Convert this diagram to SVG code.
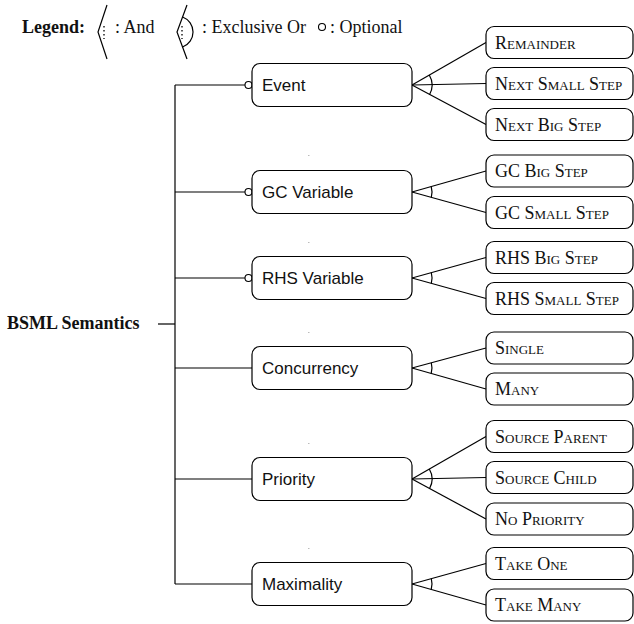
<svg xmlns="http://www.w3.org/2000/svg" width="634" height="624" viewBox="0 0 634 624">
<style>
.bg{fill:#fff}
.ln{stroke:#000;stroke-width:1.2;fill:none}
.node{fill:#fff;stroke:#000;stroke-width:1.2}
.opt{fill:#fff;stroke:#000;stroke-width:1.1}
.main{font-family:"Liberation Sans",Arial,sans-serif;font-size:17px;fill:#111}
.leaf{font-family:"Liberation Serif","Times New Roman",serif;font-size:18px;font-variant:small-caps;fill:#111}
.serif{font-family:"Liberation Serif","Times New Roman",serif;font-size:18px;fill:#111}
.bold{font-weight:bold}
.dots{stroke:#000;stroke-width:1.3;stroke-dasharray:1.5 2.5;fill:none}
.speck{fill:#bbb}
</style>
<rect class="bg" x="0" y="0" width="634" height="624"/>

<g id="legend">
  <text class="serif bold" x="22" y="33">Legend:</text>
  <polyline class="ln" points="107,5 98,32 107,59"/>
  <line class="dots" x1="104" y1="26" x2="104" y2="39"/>
  <text class="serif" x="115" y="33">: And</text>
  <polyline class="ln" points="187,5 177,32 187,59"/>
  <path class="ln" d="M182.6,17 A16,16 0 0 1 182.6,47"/>
  <line class="dots" x1="182" y1="26" x2="182" y2="39"/>
  <text class="serif" x="202" y="33">: Exclusive Or</text>
  <circle class="opt" cx="322" cy="27" r="3.5"/>
  <text class="serif" x="330" y="33">: Optional</text>
</g>

<g id="root">
  <text class="serif bold" x="7" y="329">BSML Semantics</text>
</g>

<g id="connectors">
  <line class="ln" x1="158" y1="324" x2="175" y2="324"/>
  <line class="ln" x1="175" y1="85" x2="175" y2="584"/>
  <line class="ln" x1="175" y1="85" x2="245" y2="85"/>
  <line class="ln" x1="175" y1="192" x2="245" y2="192"/>
  <line class="ln" x1="175" y1="278" x2="245" y2="278"/>
  <line class="ln" x1="175" y1="368" x2="252" y2="368"/>
  <line class="ln" x1="175" y1="479" x2="252" y2="479"/>
  <line class="ln" x1="175" y1="584" x2="252" y2="584"/>
  <circle class="opt" cx="248.5" cy="85" r="3.5"/>
  <circle class="opt" cx="248.5" cy="192" r="3.5"/>
  <circle class="opt" cx="248.5" cy="278" r="3.5"/>

  <!-- Event -->
  <line class="ln" x1="412" y1="85" x2="486" y2="42.5"/>
  <line class="ln" x1="412" y1="85" x2="486" y2="83.5"/>
  <line class="ln" x1="412" y1="85" x2="486" y2="124.5"/>
  <path class="ln" d="M429.3,75 A20,20 0 0 1 429.5,94.7"/>
  <!-- GC -->
  <line class="ln" x1="412" y1="192" x2="486" y2="171"/>
  <line class="ln" x1="412" y1="192" x2="486" y2="212.5"/>
  <path class="ln" d="M431.2,186.5 A20,20 0 0 1 431.3,197.4"/>
  <!-- RHS -->
  <line class="ln" x1="412" y1="278" x2="486" y2="257.5"/>
  <line class="ln" x1="412" y1="278" x2="486" y2="298.5"/>
  <path class="ln" d="M431.3,272.6 A20,20 0 0 1 431.3,283.4"/>
  <!-- Concurrency -->
  <line class="ln" x1="412" y1="368" x2="486" y2="348"/>
  <line class="ln" x1="412" y1="368" x2="486" y2="389"/>
  <path class="ln" d="M431.3,362.8 A20,20 0 0 1 431.2,373.5"/>
  <!-- Priority -->
  <line class="ln" x1="412" y1="479" x2="486" y2="436.5"/>
  <line class="ln" x1="412" y1="479" x2="486" y2="477.5"/>
  <line class="ln" x1="412" y1="479" x2="486" y2="519"/>
  <path class="ln" d="M429.3,469 A20,20 0 0 1 429.6,488.5"/>
  <!-- Maximality -->
  <line class="ln" x1="412" y1="584" x2="486" y2="563.5"/>
  <line class="ln" x1="412" y1="584" x2="486" y2="605"/>
  <path class="ln" d="M431.3,578.6 A20,20 0 0 1 431.2,589.5"/>
</g>

<g id="specks">
  <rect class="speck" x="308" y="155" width="1.5" height="1"/>
  <rect class="speck" x="308" y="242" width="1.5" height="1"/>
  <rect class="speck" x="308" y="332" width="1.5" height="1"/>
  <rect class="speck" x="308" y="443" width="1.5" height="1"/>
  <rect class="speck" x="308" y="548" width="1.5" height="1"/>
</g>

<g id="event"><rect class="node" x="252" y="63.5" width="160" height="43" rx="8"/><text class="main" x="262" y="91">Event</text></g>
<g id="gc-variable"><rect class="node" x="252" y="170.5" width="160" height="43" rx="8"/><text class="main" x="262" y="198">GC Variable</text></g>
<g id="rhs-variable"><rect class="node" x="252" y="256.5" width="160" height="43" rx="8"/><text class="main" x="262" y="284">RHS Variable</text></g>
<g id="concurrency"><rect class="node" x="252" y="346.5" width="160" height="43" rx="8"/><text class="main" x="262" y="374">Concurrency</text></g>
<g id="priority"><rect class="node" x="252" y="457.5" width="160" height="43" rx="8"/><text class="main" x="262" y="485">Priority</text></g>
<g id="maximality"><rect class="node" x="252" y="562.5" width="160" height="43" rx="8"/><text class="main" x="262" y="590">Maximality</text></g>

<g id="remainder"><rect class="node" x="486" y="26.5" width="147" height="32" rx="8"/><text class="leaf" x="495" y="48.5">Remainder</text></g>
<g id="next-small-step"><rect class="node" x="486" y="67.5" width="147" height="32" rx="8"/><text class="leaf" x="495" y="89.5">Next Small Step</text></g>
<g id="next-big-step"><rect class="node" x="486" y="108.5" width="147" height="32" rx="8"/><text class="leaf" x="495" y="130.5">Next Big Step</text></g>
<g id="gc-big-step"><rect class="node" x="486" y="155" width="147" height="32" rx="8"/><text class="leaf" x="495" y="177">GC Big Step</text></g>
<g id="gc-small-step"><rect class="node" x="486" y="196.5" width="147" height="32" rx="8"/><text class="leaf" x="495" y="218.5">GC Small Step</text></g>
<g id="rhs-big-step"><rect class="node" x="486" y="241.5" width="147" height="32" rx="8"/><text class="leaf" x="495" y="263.5">RHS Big Step</text></g>
<g id="rhs-small-step"><rect class="node" x="486" y="282.5" width="147" height="32" rx="8"/><text class="leaf" x="495" y="304.5">RHS Small Step</text></g>
<g id="single"><rect class="node" x="486" y="332" width="147" height="32" rx="8"/><text class="leaf" x="495" y="354">Single</text></g>
<g id="many"><rect class="node" x="486" y="373" width="147" height="32" rx="8"/><text class="leaf" x="495" y="395">Many</text></g>
<g id="source-parent"><rect class="node" x="486" y="420.5" width="147" height="32" rx="8"/><text class="leaf" x="495" y="442.5">Source Parent</text></g>
<g id="source-child"><rect class="node" x="486" y="461.5" width="147" height="32" rx="8"/><text class="leaf" x="495" y="483.5">Source Child</text></g>
<g id="no-priority"><rect class="node" x="486" y="503" width="147" height="32" rx="8"/><text class="leaf" x="495" y="525">No Priority</text></g>
<g id="take-one"><rect class="node" x="486" y="547.5" width="147" height="32" rx="8"/><text class="leaf" x="495" y="569.5">Take One</text></g>
<g id="take-many"><rect class="node" x="486" y="589" width="147" height="32" rx="8"/><text class="leaf" x="495" y="611">Take Many</text></g>
</svg>
